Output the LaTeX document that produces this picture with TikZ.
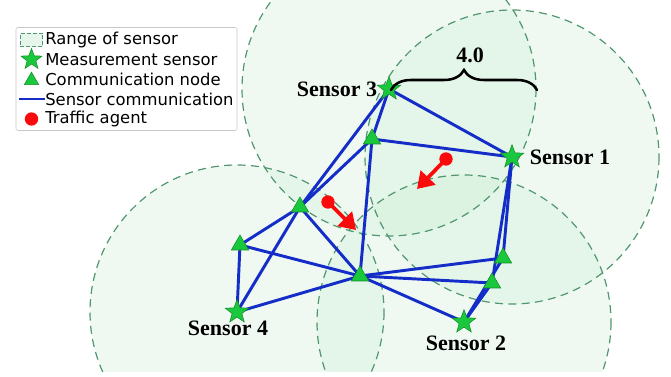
\documentclass[tikz,border=0pt]{standalone}
\usepackage{fontspec}
\setmainfont{Liberation Serif}
\newfontfamily\legendfont{DejaVu Sans}
\usetikzlibrary{shapes.geometric,arrows.meta,decorations.pathreplacing}

\definecolor{rangefill}{RGB}{200,236,210}
\definecolor{rangeline}{RGB}{80,150,110}
\definecolor{linkblue}{RGB}{20,45,200}
\definecolor{markgreen}{RGB}{25,200,60}
\definecolor{markedge}{RGB}{20,140,40}
\definecolor{agentred}{RGB}{250,10,10}

\tikzset{
  rangedisk/.style={fill=rangefill, fill opacity=0.29},
  rangeedge/.style={draw=rangeline, line width=0.9pt, dash pattern=on 6pt off 4pt},
  link/.style={draw=linkblue, line width=2.2pt},
  sensor/.style={star, star points=5, star point ratio=2.4, minimum size=18.5pt,
    inner sep=0pt, fill=markgreen, draw=markedge, line width=0.4pt},
  commnode/.style={regular polygon, regular polygon sides=3, minimum size=15pt,
    inner sep=0pt, fill=markgreen, draw=markedge, line width=0.4pt},
  agentdot/.style={circle, fill=agentred, minimum size=10pt, inner sep=0pt},
  agentmove/.style={draw=agentred, line width=2.8pt,
    -{Triangle[length=12pt,width=15pt]}},
  sensorlabel/.style={font=\fontsize{16.5}{18}\selectfont\bfseries, text=black, inner sep=0pt},
  legendtext/.style={font=\legendfont\fontsize{12.3}{14}\selectfont, anchor=west, inner sep=0pt},
}

\begin{document}
\begin{tikzpicture}[x=0.75pt,y=-0.75pt]
\useasboundingbox (0,0) rectangle (671,377);

% sensor positions and communication nodes (pixel grid)
\coordinate (p-s1) at (512,157);
\coordinate (p-s2) at (464,322);
\coordinate (p-s3) at (389,89);
\coordinate (p-s4) at (237,312);
\coordinate (p-t1) at (372,139);
\coordinate (p-t2) at (300,207);
\coordinate (p-t3) at (240,245);
\coordinate (p-t4) at (360,276);
\coordinate (p-t5) at (503,258);
\coordinate (p-t6) at (492,283);

% sensing ranges, radius 4.0
\begin{scope}
  \clip (0,0) rectangle (671,372);
  \foreach \s in {s1,s2,s3,s4} {
    \path[rangedisk] (p-\s) circle[radius=147];
  }
  \foreach \s in {s1,s2,s3,s4} {
    \path[rangeedge] (p-\s) circle[radius=147];
  }
\end{scope}

% communication links
\foreach \a/\b in {s3/s1, s3/t1, s3/t2, t1/s1, t1/t2, t1/t4, t2/t3, t2/s4, t2/t4,
                   t3/s4, t3/t4, s4/t4, t4/t5, t4/t6, t4/s2, s1/t5, s1/t6, t5/s2, t6/s2} {
  \draw[link] (p-\a) -- (p-\b);
}

% communication nodes
\foreach \t in {t1,t2,t3,t4,t5,t6} {
  \node[commnode] (\t) at (p-\t) {};
}

% measurement sensors
\foreach \s in {s1,s2,s3,s4} {
  \node[sensor] (\s) at (p-\s) {};
}

% traffic agents and their headings
\node[agentdot] (a1) at (446,159) {};
\coordinate (a1-tip) at (417,189);
\draw[agentmove] (a1.center) -- (a1-tip);
\node[agentdot] (a2) at (328,202) {};
\coordinate (a2-tip) at (356,230);
\draw[agentmove] (a2.center) -- (a2-tip);

% sensor labels
\node[sensorlabel] (l3) at (337,89) {Sensor 3};
\node[sensorlabel] (l1) at (570,157) {Sensor 1};
\node[sensorlabel] (l2) at (466,343) {Sensor 2};
\node[sensorlabel] (l4) at (228,328) {Sensor 4};

% range annotation
\coordinate (br-a) at (391,90);
\coordinate (br-b) at (537,90);
\draw[line width=1.9pt, line cap=round, decorate,
      decoration={brace, amplitude=15pt}] (br-a) -- (br-b);
\node[sensorlabel] (rlabel) at (470,55) {4.0};

% legend
\node[draw=black!22, fill=white, fill opacity=0.85, rounded corners=1.5pt,
      minimum width=221*0.75pt, minimum height=103*0.75pt, inner sep=0pt]
      (legend) at (126.5,79) {};
\node[draw=rangeline, dash pattern=on 3pt off 1.5pt, line width=0.6pt,
      fill=rangefill!45, minimum width=17pt, minimum height=10pt, inner sep=0pt]
      (k1) at (31.5,40) {};
\node[sensor, minimum size=16.5pt] (k2) at (31.5,59.5) {};
\node[commnode, minimum size=12.5pt] (k3) at (31.5,80.5) {};
\coordinate (k4a) at (18.5,99);
\coordinate (k4b) at (44.5,99);
\draw[link, line width=1.8pt] (k4a) -- (k4b);
\node[agentdot, minimum size=10pt] (k5) at (31.5,119) {};
\node[legendtext] (e1) at (45,40) {Range of sensor};
\node[legendtext] (e2) at (45,59.5) {Measurement sensor};
\node[legendtext] (e3) at (45,79.5) {Communication node};
\node[legendtext] (e4) at (45,99) {Sensor communication};
\node[legendtext] (e5) at (45,119) {Traffic agent};
\end{tikzpicture}
\end{document}
